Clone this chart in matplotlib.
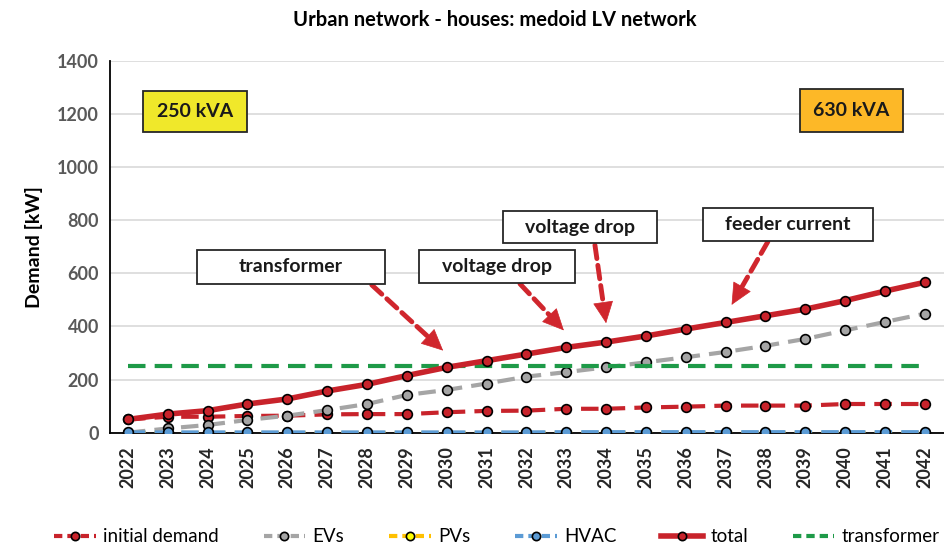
import matplotlib
matplotlib.use("Agg")
import matplotlib.pyplot as plt
from matplotlib.lines import Line2D
from matplotlib.patches import Rectangle

plt.rcParams['font.family'] = ['Lato', 'DejaVu Sans']

years = [str(y) for y in range(2022, 2043)]
initial_demand = [50, 60, 60, 63, 64, 69, 70, 70, 77, 82, 83, 90, 90, 95, 98, 102, 102, 102, 108, 108, 108]
evs = [0, 16, 29, 48, 64, 85, 108, 142, 161, 185, 211, 228, 246, 265, 284, 304, 327, 353, 385, 417, 448]
pvs = [0] * 21
hvac = [1, 1, 1, 1, 1, 1, 1, 1, 1, 1, 1, 2, 2, 2, 2, 2, 2, 2, 2, 2, 2]
total = [50, 70, 83, 108, 127, 157, 182, 215, 246, 271, 296, 321, 341, 364, 390, 415, 440, 465, 497, 533, 566]
transformer = [250] * 21

RED = '#C8232B'
GREY = '#A5A5A5'
YEL = '#FFC000'
BLUE = '#5B9BD5'
GREEN = '#1E9A48'
ARW = '#D0262D'
DASH = (0, (4.2, 2.2))

W, H = 944, 553
fig = plt.figure(figsize=(W / 100, H / 100), dpi=100)
ax = fig.add_axes([110 / W, 1 - 432.7 / H, (944 - 110) / W, (432.7 - 60.7) / H])

x = list(range(len(years)))
mk = dict(marker='o', markersize=7, markeredgecolor='black', markeredgewidth=1.2)

ax.plot(x, initial_demand, color=RED, lw=3, ls=DASH, markerfacecolor=RED, zorder=3, **mk)
ax.plot(x, evs, color=GREY, lw=3, ls=DASH, markerfacecolor=GREY, zorder=3, **mk)
ax.plot(x, pvs, color=YEL, lw=3, ls=DASH, markerfacecolor='#FFFF00', zorder=3, **mk)
ax.plot(x, hvac, color=BLUE, lw=3, ls=DASH, markerfacecolor=BLUE, zorder=3, **mk)
ax.plot(x, transformer, color=GREEN, lw=3, ls=DASH, zorder=3)
ax.plot(x, total, color=RED, lw=4, ls='-', markerfacecolor=RED, zorder=4, **mk)

ax.set_xlim(-0.45, 20.48)
ax.set_ylim(0, 1400)
ax.set_yticks(range(0, 1401, 200))
ax.set_xticks(x)
ax.set_xticklabels(years, rotation=90, fontsize=13, fontweight='bold', color='#262626')
for lab in ax.get_yticklabels():
    lab.set_fontsize(13)
    lab.set_fontweight('bold')
    lab.set_color('#595959')
ax.tick_params(axis='both', length=0, pad=8)
ax.tick_params(axis='x', pad=10)
ax.grid(axis='y', color='#D9D9D9', lw=1.2)
ax.set_axisbelow(True)
for s in ['top', 'right']:
    ax.spines[s].set_visible(False)
ax.spines['left'].set_color('black')
ax.spines['bottom'].set_color('black')
ax.spines['left'].set_linewidth(1.3)
ax.spines['bottom'].set_linewidth(1.3)

ax.set_ylabel('Demand [kW]', fontsize=14, fontweight='bold', labelpad=10)
fig.text(495 / W, 1 - 20 / H, 'Urban network - houses: medoid LV network', ha='center', va='center',
         fontsize=14.5, fontweight='bold')

# label boxes (x0, x1, y0, y1 in data units)
boxes = [
    ('250 kVA', 0.37, 2.98, 1133, 1286, '#F0E82A'),
    ('630 kVA', 16.86, 19.45, 1133, 1293, '#FDB827'),
    ('transformer', 1.74, 6.45, 560, 688, 'white'),
    ('voltage drop', 7.31, 11.23, 563, 688, 'white'),
    ('voltage drop', 9.42, 13.28, 713, 834, 'white'),
    ('feeder current', 14.44, 18.69, 723, 845, 'white'),
]
for txt, x0, x1, y0, y1, fc in boxes:
    ax.add_patch(Rectangle((x0, y0), x1 - x0, y1 - y0, facecolor=fc, edgecolor='#262626', lw=1.3, zorder=6))
    ax.text((x0 + x1) / 2, (y0 + y1) / 2, txt, ha='center', va='center', fontsize=14,
            fontweight='bold', color='#1a1a1a', zorder=7)

arrows = [
    ((6.12, 556), (7.91, 309)),
    ((9.84, 560), (10.94, 385)),
    ((11.72, 706), (12.0, 412)),
    ((16.06, 719), (15.15, 481)),
]
for (sx, sy), (tx, ty) in arrows:
    fx = sx + (tx - sx) * 0.80
    fy = sy + (ty - sy) * 0.80
    ax.annotate('', xy=(fx, fy), xytext=(sx, sy),
                arrowprops=dict(arrowstyle='-', color=ARW, lw=3.5, ls=(0, (2.8, 1.4)),
                                shrinkA=0, shrinkB=0), zorder=5)
    ax.annotate('', xy=(tx, ty), xytext=(fx, fy),
                arrowprops=dict(arrowstyle='-|>,head_length=0.85,head_width=0.4', color=ARW, lw=0.5,
                                shrinkA=0, shrinkB=0, mutation_scale=17), zorder=5)

handles = [
    Line2D([], [], color=RED, lw=3, ls=(0, (2.0, 1.2)), markerfacecolor=RED, **mk),
    Line2D([], [], color=GREY, lw=3, ls=(0, (2.0, 1.2)), markerfacecolor=GREY, **mk),
    Line2D([], [], color=YEL, lw=3, ls=(0, (2.0, 1.2)), markerfacecolor='#FFFF00', **mk),
    Line2D([], [], color=BLUE, lw=3, ls=(0, (2.0, 1.2)), markerfacecolor=BLUE, **mk),
    Line2D([], [], color=RED, lw=4, markerfacecolor=RED, **mk),
    Line2D([], [], color=GREEN, lw=3, ls=(0, (2.0, 1.2))),
]
labels = ['initial demand', 'EVs', 'PVs', 'HVAC', 'total', 'transformer']
fig.legend(handles, labels, loc='center', bbox_to_anchor=(497 / W, 1 - 537 / H), ncol=6,
           frameon=False, fontsize=13.5, handlelength=2.2, columnspacing=2.4, handletextpad=0.4,
           markerscale=0.85)

fig.savefig('out.png', dpi=100)
